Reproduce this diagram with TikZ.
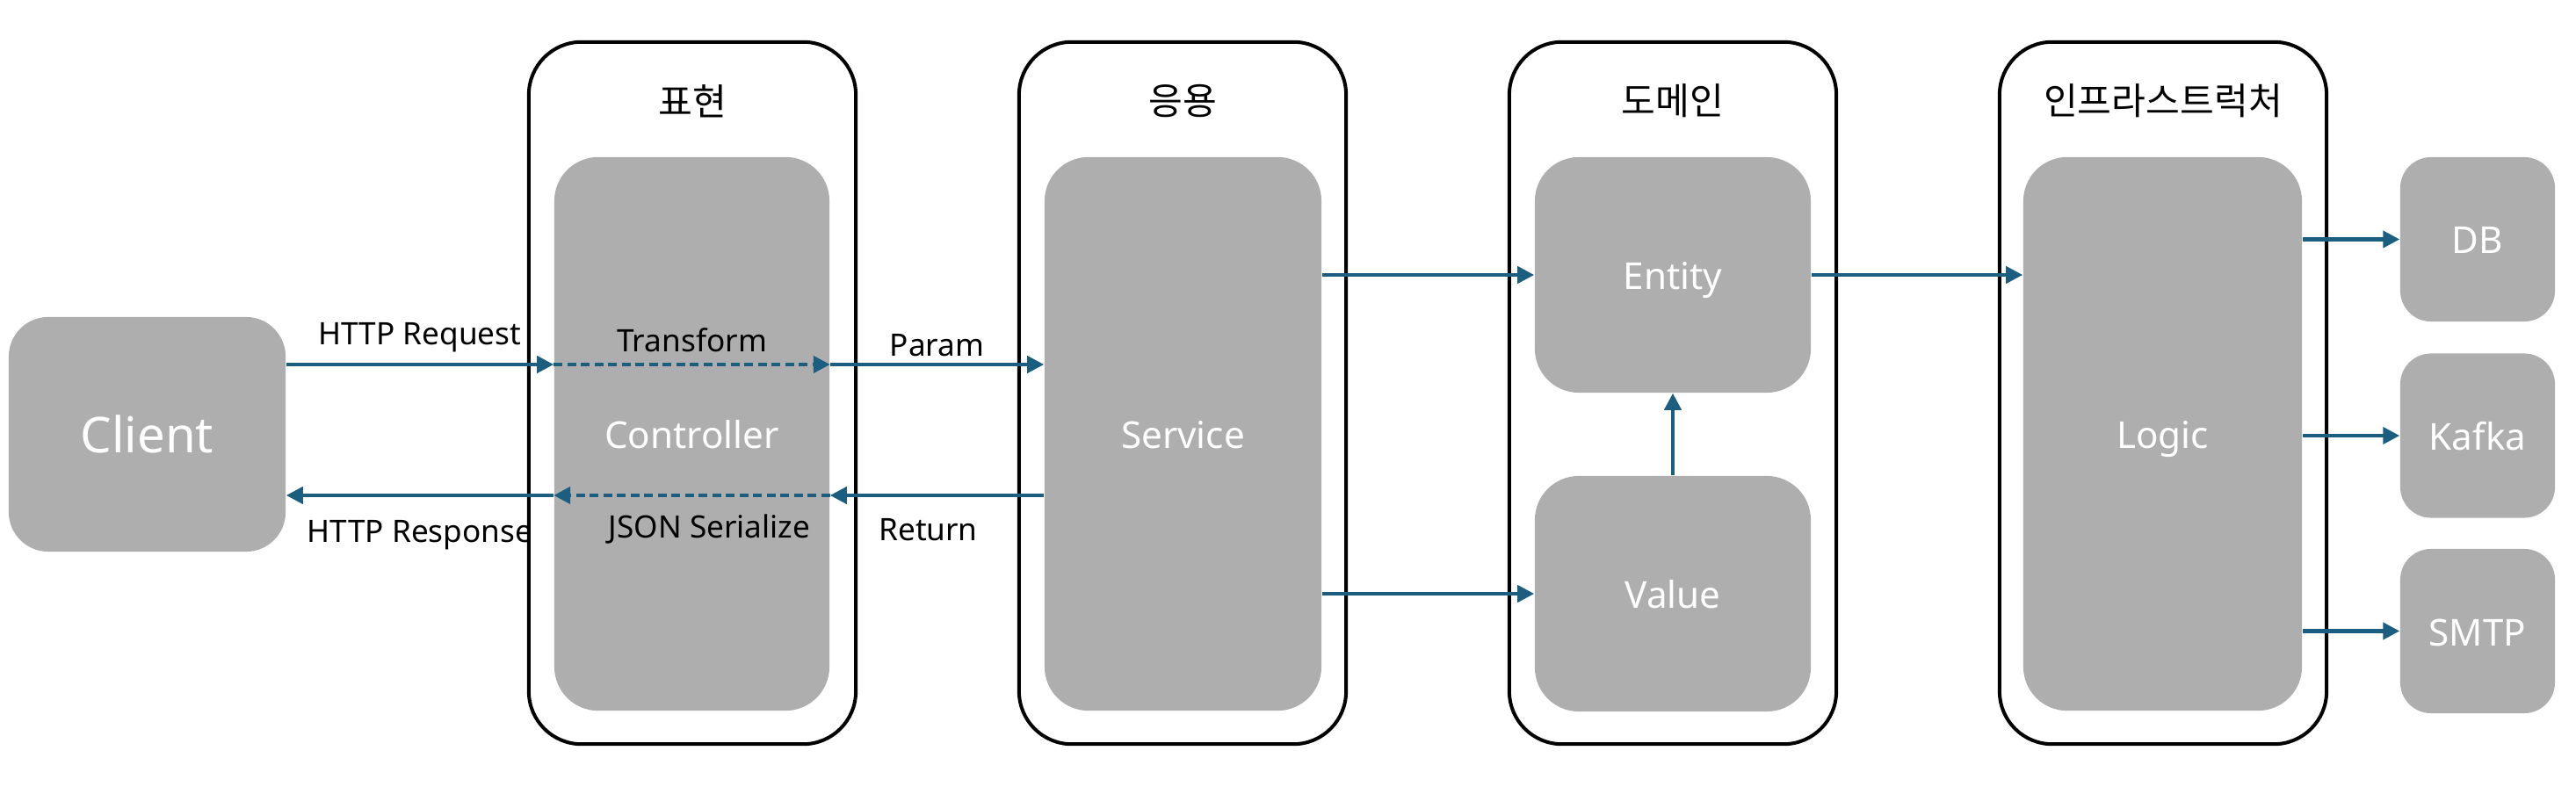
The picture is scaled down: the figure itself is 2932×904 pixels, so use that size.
\documentclass[tikz,border=0pt]{standalone}
\usepackage{fontspec}
\setmainfont{Noto Sans}
\newfontfamily\krfont{Noto Sans CJK KR}
\usetikzlibrary{arrows.meta}
\definecolor{boxgray}{RGB}{174,174,174}
\definecolor{flowblue}{RGB}{27,94,128}
\tikzset{
  layerbox/.style={draw=black, line width=0.04cm, rounded corners=0.6cm, minimum width=3.72cm, minimum height=7.99cm, inner sep=0pt},
  partbox/.style={fill=boxgray, text=white, rounded corners=0.5cm, inner sep=0pt, text height=0.33cm, text depth=0pt, font=\fontsize{12}{14}\selectfont},
  extbox/.style={partbox, rounded corners=0.35cm, minimum width=1.76cm, minimum height=1.87cm},
  titletext/.style={font=\krfont\fontsize{12}{15}\selectfont},
  flowarrow/.style={draw=flowblue, line width=0.042cm, ->},
  dashflow/.style={flowarrow, dash pattern=on 0.1cm off 0.055cm},
  flowlabel/.style={font=\fontsize{10}{12}\selectfont, text=black},
}
\begin{document}
\begin{tikzpicture}[x=0.01cm, y=-0.01cm, line join=round, >={Triangle[length=0.19cm,width=0.19cm]}]
  \useasboundingbox (0,0) rectangle (2932,904);
  % layers
  \node[layerbox] (pres) at (788,447.5) {};
  \node[layerbox] (app) at (1346,447.5) {};
  \node[layerbox] (dom) at (1904,447.5) {};
  \node[layerbox] (infra) at (2462,447.5) {};
  \node[titletext] (presT) at (788,115) {표현};
  \node[titletext] (appT) at (1346,115) {응용};
  \node[titletext] (domT) at (1904,115) {도메인};
  \node[titletext] (infraT) at (2462,115) {인프라스트럭처};
  % parts
  \node[partbox, minimum width=3.15cm, minimum height=2.67cm, rounded corners=0.45cm, text height=0.41cm, font=\fontsize{16}{19}\selectfont] (client) at (167.5,494.5) {Client};
  \node[partbox, minimum width=3.13cm, minimum height=6.3cm] (ctrl) at (787.5,494) {Controller};
  \node[partbox, minimum width=3.15cm, minimum height=6.3cm] (service) at (1346.5,494) {Service};
  \node[partbox, minimum width=3.14cm, minimum height=2.68cm] (entity) at (1904,313) {Entity};
  \node[partbox, minimum width=3.14cm, minimum height=2.68cm] (value) at (1904,676) {Value};
  \node[partbox, minimum width=3.17cm, minimum height=6.3cm] (logic) at (2461.5,494) {Logic};
  \node[extbox] (db) at (2820,272.5) {DB};
  \node[extbox] (kafka) at (2820,496) {Kafka};
  \node[extbox] (smtp) at (2820,718.5) {SMTP};
  % request / response
  \coordinate (req) at (0,415);
  \coordinate (res) at (0,564);
  \draw[flowarrow] (client.east |- req) -- (ctrl.west |- req) node[midway, above, flowlabel] {HTTP Request};
  \draw[dashflow] (ctrl.west |- req) -- (ctrl.east |- req) node[midway, above, flowlabel] {Transform};
  \draw[flowarrow] (ctrl.east |- req) -- (service.west |- req) node[midway, above, yshift=-0.05cm, flowlabel] {Param};
  \draw[flowarrow] (service.west |- res) -- (ctrl.east |- res) node[midway, below=0.13cm, xshift=-0.1cm, flowlabel] {Return};
  \draw[dashflow] (ctrl.east |- res) -- (ctrl.west |- res) node[midway, below=0.08cm, xshift=0.2cm, flowlabel] {JSON Serialize};
  \draw[flowarrow] (ctrl.west |- res) -- (client.east |- res) node[midway, below=0.15cm, flowlabel] {HTTP Response};
  % domain and infra
  \draw[flowarrow] (service.east |- entity.west) -- (entity.west);
  \draw[flowarrow] (service.east |- value.west) -- (value.west);
  \draw[flowarrow] (value.north) -- (entity.south);
  \draw[flowarrow] (entity.east) -- (logic.west |- entity.east);
  \draw[flowarrow] (logic.east |- db.west) -- (db.west);
  \draw[flowarrow] (logic.east |- kafka.west) -- (kafka.west);
  \draw[flowarrow] (logic.east |- smtp.west) -- (smtp.west);
\end{tikzpicture}
\end{document}
